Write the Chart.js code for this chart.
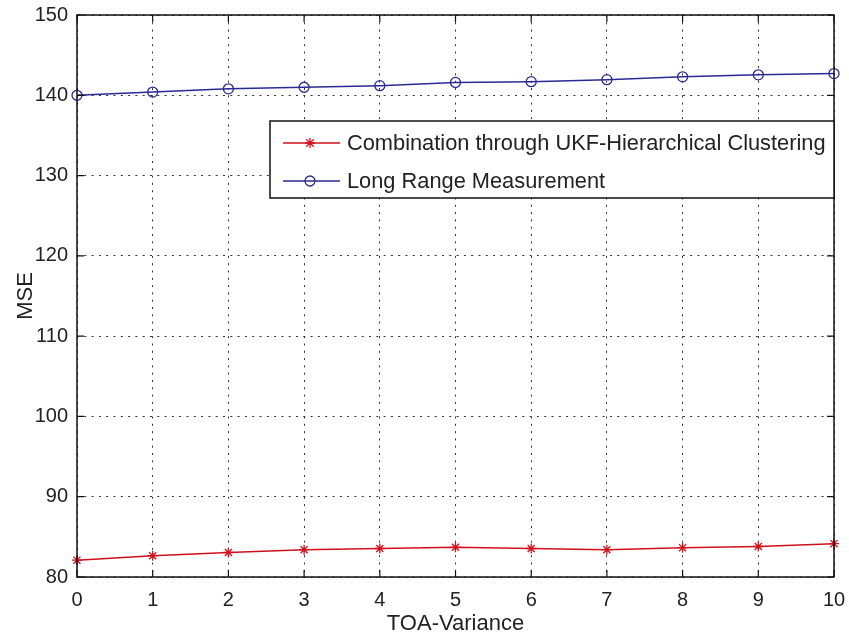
<!DOCTYPE html>
<html lang="en">
<head>
  <meta charset="UTF-8">
  <title>MSE vs TOA-Variance</title>
  <script src="https://cdn.jsdelivr.net/npm/chart.js"></script>
  <style>
    html, body { margin: 0; padding: 0; background: #fff; }
    #wrap { width: 849px; height: 638px; }
  </style>
</head>
<body>
  <div id="wrap"><canvas id="mseChart" width="849" height="638"></canvas></div>

  <script>
    // values
    const toaVariance = [0, 1, 2, 3, 4, 5, 6, 7, 8, 9, 10];
    const ukfHierarchical = [82.1, 82.65, 83.05, 83.4, 83.55, 83.7, 83.55, 83.4, 83.65, 83.8, 84.15];
    const longRange = [140.0, 140.4, 140.8, 141.0, 141.2, 141.6, 141.7, 141.95, 142.3, 142.55, 142.7];
    const seriesNames = ['Combination through UKF-Hierarchical Clustering', 'Long Range Measurement'];

    const RED = '#d0101c';
    const BLUE = '#2a2a96';
    const FONT = "'Liberation Sans', Arial, sans-serif";

    function drawMarker(ctx, style, x, y, color) {
      ctx.save();
      ctx.strokeStyle = color;
      ctx.lineWidth = 1.3;
      ctx.beginPath();
      if (style === 'circle') {
        ctx.arc(x, y, 5, 0, Math.PI * 2);
      } else {
        const r = 5;
        ctx.moveTo(x - r, y); ctx.lineTo(x + r, y);
        ctx.moveTo(x, y - r); ctx.lineTo(x, y + r);
        const d = r * 0.75;
        ctx.moveTo(x - d, y - d); ctx.lineTo(x + d, y + d);
        ctx.moveTo(x - d, y + d); ctx.lineTo(x + d, y - d);
      }
      ctx.stroke();
      ctx.restore();
    }

    // box, inward ticks and the boxed legend, matlab style
    const framePlugin = {
      id: 'frame',
      afterDraw(chart) {
        const { ctx, chartArea: a, scales } = chart;
        ctx.save();
        ctx.strokeStyle = '#111';
        ctx.lineWidth = 1.5;
        ctx.strokeRect(a.left, a.top, a.right - a.left, a.bottom - a.top);
        ctx.lineWidth = 1.2;
        ctx.beginPath();
        scales.x.ticks.forEach(t => {
          const px = scales.x.getPixelForValue(t.value);
          ctx.moveTo(px, a.bottom); ctx.lineTo(px, a.bottom - 7);
          ctx.moveTo(px, a.top); ctx.lineTo(px, a.top + 7);
        });
        scales.y.ticks.forEach(t => {
          const py = scales.y.getPixelForValue(t.value);
          ctx.moveTo(a.left, py); ctx.lineTo(a.left + 7, py);
          ctx.moveTo(a.right, py); ctx.lineTo(a.right - 7, py);
        });
        ctx.stroke();

        // legend
        const lx = 270, ly = 121, lw = a.right - 270, lh = 77;
        ctx.fillStyle = '#fff';
        ctx.fillRect(lx, ly, lw, lh);
        ctx.lineWidth = 1.5;
        ctx.strokeStyle = '#111';
        ctx.strokeRect(lx, ly, lw, lh);
        ctx.font = '21.8px ' + FONT;
        ctx.textBaseline = 'middle';
        chart.data.datasets.forEach((ds, i) => {
          const yy = ly + 22 + i * 38;
          ctx.strokeStyle = ds.borderColor;
          ctx.lineWidth = 1.5;
          ctx.beginPath();
          ctx.moveTo(lx + 13, yy); ctx.lineTo(lx + 70, yy);
          ctx.stroke();
          drawMarker(ctx, ds.pointStyle, lx + 40, yy, ds.borderColor);
          ctx.fillStyle = '#222';
          ctx.fillText(ds.label, lx + 77, yy + 1);
        });
        ctx.restore();
      }
    };

    const gridDash = [2, 5.3];

    const ctx = document.getElementById('mseChart').getContext('2d');
    const chart = new Chart(ctx, {
      type: 'line',
      data: {
        datasets: [
          {
            label: seriesNames[0],
            data: toaVariance.map((x, i) => ({ x: x, y: ukfHierarchical[i] })),
            borderColor: RED,
            backgroundColor: 'transparent',
            borderWidth: 1.5,
            pointStyle: 'star',
            pointRadius: 5,
            pointBorderWidth: 1.3,
            tension: 0,
            clip: false
          },
          {
            label: seriesNames[1],
            data: toaVariance.map((x, i) => ({ x: x, y: longRange[i] })),
            borderColor: BLUE,
            backgroundColor: 'transparent',
            borderWidth: 1.5,
            pointStyle: 'circle',
            pointRadius: 5,
            pointBorderWidth: 1.3,
            tension: 0,
            clip: false
          }
        ]
      },
      options: {
        responsive: false,
        animation: false,
        layout: { padding: { top: 15, right: 15, left: 0, bottom: 0 } },
        plugins: {
          legend: { display: false },
          tooltip: { enabled: false }
        },
        scales: {
          x: {
            type: 'linear',
            min: 0,
            max: 10,
            afterFit: s => { s.height = 61; s.paddingLeft = 0; s.paddingRight = 0; },
            ticks: { stepSize: 1, padding: 11, color: '#222', font: { family: FONT, size: 20 } },
            grid: { color: '#333', lineWidth: 1, drawTicks: false },
            border: { display: false, dash: gridDash },
            title: { display: true, text: 'TOA-Variance', color: '#222', font: { family: FONT, size: 22 }, padding: { top: 0, bottom: 1 } }
          },
          y: {
            min: 80,
            max: 150,
            afterFit: s => { s.width = 77; s.paddingTop = 0; s.paddingBottom = 0; },
            ticks: { stepSize: 10, padding: 9, color: '#222', font: { family: FONT, size: 20 } },
            grid: { color: '#333', lineWidth: 1, drawTicks: false },
            border: { display: false, dash: gridDash },
            title: { display: true, text: 'MSE', color: '#222', font: { family: FONT, size: 22 }, padding: { top: 13, bottom: 0 } }
          }
        }
      },
      plugins: [framePlugin]
    });
  </script>
</body>
</html>
